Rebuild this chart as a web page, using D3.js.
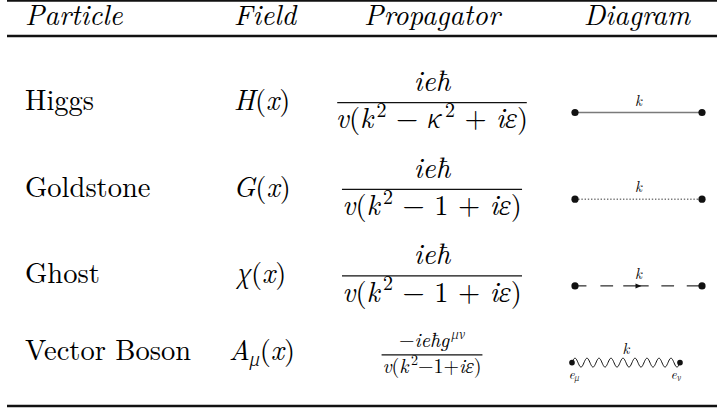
<!DOCTYPE html>
<html>
<head>
<meta charset="utf-8">
<script src="https://cdn.jsdelivr.net/npm/d3@7"></script>
<style>
body { margin: 0; background: #fff; }
</style>
</head>
<body>
<script>
const width = 717;
const height = 419;

// table content
const headers = ["Particle", "Field", "Propagator", "Diagram"];
const particles = ["Higgs", "Goldstone", "Ghost", "Vector Boson"];
const fields = ["H(x)", "G(x)", "χ(x)", "A_μ(x)"];
const numerators = ["ieħ", "ieħ", "ieħ", "−ieħg^{μν}"];
const denominators = ["v(k^2 − κ^2 + iε)", "v(k^2 − 1 + iε)", "v(k^2 − 1 + iε)", "v(k^2−1+iε)"];
const lines = ["solid", "dotted", "dashed", "wavy"];
const momentum = "k";
const polarisations = ["e_μ", "e_ν"];

// layout
const FONT = '"Latin Modern Roman", monospace';
const GREEK = '"Noto Serif", monospace';
const fontSize = 28.5;
const smallFrac = 20;
const firstBaseline = 110;
const rowGap = 20;
const textRows = new Set(["Vector Boson"]);

const svg = d3.select("body")
    .append("svg")
    .attr("width", width)
    .attr("height", height);

const colX = d3.scaleOrdinal(headers, [25, 265, 432, 637]);
const colAnchor = d3.scaleOrdinal(headers, ["start", "middle", "middle", "middle"]);
const diagX = d3.scaleLinear().domain([0, 1]).range([575, 702]);
const waveX = d3.scaleLinear().domain([0, 1]).range([572, 680]);

// row baselines from the fraction heights
const fracFont = particles.map(p => textRows.has(p) ? smallFrac : fontSize);
const baselines = [];
fracFont.forEach((f, i) => {
    if (i === 0) baselines.push(firstBaseline);
    else baselines.push(baselines[i - 1] + fracFont[i - 1] * 1.17 + f * 1.17 + rowGap);
});

// rules
function rule(y, w) {
    svg.append("line")
        .attr("x1", 7).attr("x2", width)
        .attr("y1", y).attr("y2", y)
        .attr("stroke", "#111")
        .attr("stroke-width", w);
}
rule(0.5, 2.5);
rule(36, 2.6);
rule(406, 2.6);

// math text: letters italic, ^ and _ for raised / lowered parts
function mathTokens(s) {
    const out = [];
    let i = 0;
    while (i < s.length) {
        const c = s[i];
        if (c === "^" || c === "_") {
            let t;
            if (s[i + 1] === "{") {
                const j = s.indexOf("}", i);
                t = s.slice(i + 2, j);
                i = j + 1;
            } else {
                t = s[i + 1];
                i += 2;
            }
            out.push({t: t, pos: c === "^" ? "sup" : "sub"});
        } else {
            out.push({t: c, pos: "base"});
            i++;
        }
    }
    return out;
}

function drawMath(g, str, x, y, size, anchor) {
    const text = g.append("text")
        .attr("x", x)
        .attr("y", y)
        .attr("font-size", size)
        .attr("text-anchor", anchor || "middle")
        .style("font-family", FONT)
        .style("white-space", "pre");
    let shift = 0;
    mathTokens(str).forEach(tok => {
        const target = tok.pos === "sup" ? -0.4 * size : tok.pos === "sub" ? 0.2 * size : 0;
        const fs = tok.pos === "base" ? size : size * 0.7;
        [...tok.t].forEach((ch, k) => {
            const greek = /[α-ω]/.test(ch);
            const span = text.append("tspan")
                .attr("dy", k === 0 ? target - shift : 0)
                .attr("font-size", greek ? fs * 0.9 : fs)
                .attr("font-style", /[A-Za-zα-ωħ]/.test(ch) ? "italic" : "normal")
                .style("font-family", greek ? GREEK : FONT)
                .text(ch);
            if (greek) span.attr("font-weight", 300);
            if (k === 0 && tok.pos === "sup") span.attr("dx", 0.12 * size);
        });
        shift = target;
    });
    return text;
}

// header
svg.selectAll("text.header")
    .data(headers)
    .enter()
    .append("text")
    .attr("class", "header")
    .attr("x", d => colX(d))
    .attr("y", 25)
    .attr("text-anchor", d => colAnchor(d))
    .attr("font-size", fontSize)
    .attr("font-style", "italic")
    .style("font-family", FONT)
    .text(d => d);

// particle names
svg.selectAll("text.particle")
    .data(particles)
    .enter()
    .append("text")
    .attr("class", "particle")
    .attr("x", colX("Particle"))
    .attr("y", (d, i) => baselines[i])
    .attr("font-size", fontSize)
    .style("font-family", FONT)
    .text(d => d);

// fields
fields.forEach((f, i) => {
    drawMath(svg, f, colX("Field") - 3, baselines[i], fontSize, "middle");
});

// propagators
particles.forEach((p, i) => {
    const fs = fracFont[i];
    const bar = baselines[i] - 0.26 * fs;
    const g = svg.append("g");
    drawMath(g, numerators[i], colX("Propagator"), bar - 0.41 * fs, fs, "middle");
    const den = drawMath(g, denominators[i], colX("Propagator"), bar + 0.9 * fs, fs, "middle");
    const w = den.node().getComputedTextLength();
    g.append("line")
        .attr("x1", colX("Propagator") - w / 2 - 2)
        .attr("x2", colX("Propagator") + w / 2 + 2)
        .attr("y1", bar).attr("y2", bar)
        .attr("stroke", "#111")
        .attr("stroke-width", 1.3);
});

// diagrams
const dashes = [[0, 0.09], [0.2, 0.3], [0.38, 0.58], [0.68, 0.78], [0.88, 1]];

lines.forEach((kind, i) => {
    const y = baselines[i] + 2.5;
    const g = svg.append("g");
    if (kind === "solid" || kind === "dotted") {
        g.append("line")
            .attr("x1", diagX(0)).attr("x2", diagX(1))
            .attr("y1", y).attr("y2", y)
            .attr("stroke", "#7a7a7a")
            .attr("stroke-width", kind === "solid" ? 1.6 : 1.5)
            .attr("stroke-dasharray", kind === "dotted" ? "1.4,1.8" : null);
    } else if (kind === "dashed") {
        g.selectAll("line")
            .data(dashes)
            .enter()
            .append("line")
            .attr("x1", d => diagX(d[0])).attr("x2", d => diagX(d[1]))
            .attr("y1", y).attr("y2", y)
            .attr("stroke", "#111")
            .attr("stroke-width", 1.1);
        const ax = diagX(0.5);
        g.append("path")
            .attr("d", `M${ax + 3},${y} L${ax - 3},${y - 2.5} L${ax - 3},${y + 2.5} Z`)
            .attr("fill", "#111");
    }

    if (kind === "wavy") {
        const periods = 9;
        const pts = d3.range(0, 1.0001, 0.005).map(t => [waveX(t), y - 4.5 * Math.sin(t * periods * 2 * Math.PI)]);
        g.append("path")
            .attr("d", d3.line().curve(d3.curveBasis)(pts))
            .attr("fill", "none")
            .attr("stroke", "#111")
            .attr("stroke-width", 1);
        g.selectAll("circle")
            .data([0, 1])
            .enter()
            .append("circle")
            .attr("cx", d => waveX(d))
            .attr("cy", y)
            .attr("r", 2.8)
            .attr("fill", "#111");
        drawMath(g, momentum, waveX(0.5), y - 9, 15, "middle");
        polarisations.forEach((p, k) => {
            drawMath(g, p, waveX(k) + (k === 0 ? 2 : -4), y + 16, 13, "middle");
        });
    } else {
        g.selectAll("circle")
            .data([0, 1])
            .enter()
            .append("circle")
            .attr("cx", d => diagX(d))
            .attr("cy", y)
            .attr("r", 3.6)
            .attr("fill", "#111");
        drawMath(g, momentum, diagX(0.5), y - 7, 15, "middle");
    }
});
</script>
</body>
</html>
